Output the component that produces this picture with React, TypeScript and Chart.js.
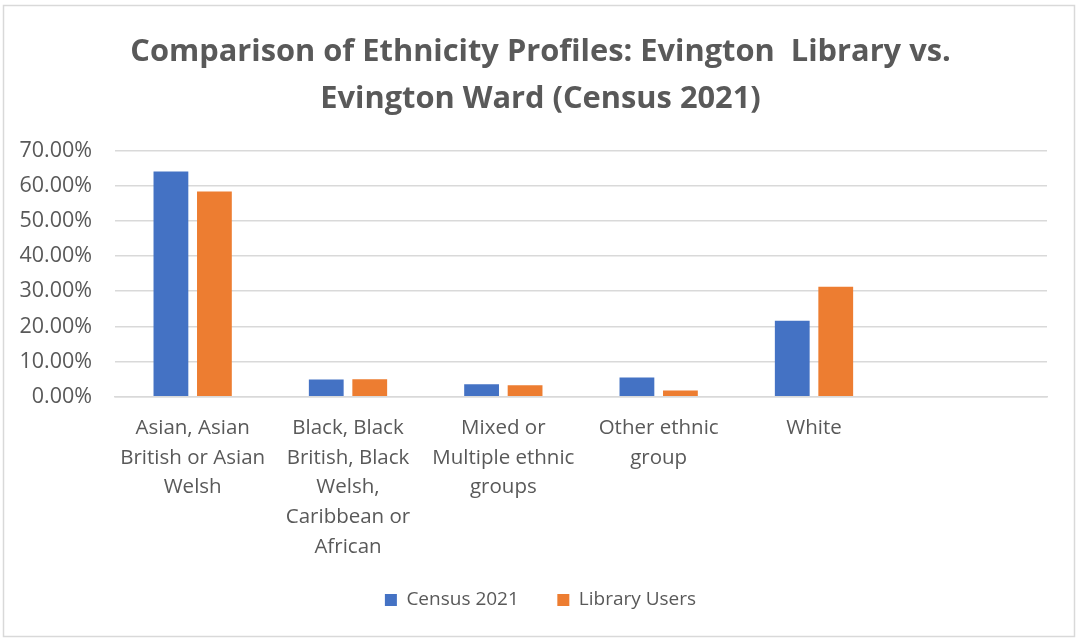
import React, { useEffect, useRef } from "react";
import { Chart, registerables } from "chart.js";

Chart.register(...registerables);

const categories: (string | string[])[] = [
  ["Asian, Asian", "British or Asian", "Welsh"],
  ["Black, Black", "British, Black", "Welsh,", "Caribbean or", "African"],
  ["Mixed or", "Multiple ethnic", "groups"],
  ["Other ethnic", "group"],
  "White",
  "",
];
const census2021 = [64.0, 4.9, 3.6, 5.5, 21.6, null];
const libraryUsers = [58.3, 5.0, 3.3, 1.8, 31.3, null];
const titleLines = [
  "Comparison of Ethnicity Profiles: Evington  Library vs.",
  "Evington Ward (Census 2021)",
];

const FONT = "'Open Sans', sans-serif";
const TEXT = "#595959";

const borderPlugin = {
  id: "outerBorder",
  beforeDraw(chart: any) {
    const { ctx } = chart;
    ctx.save();
    ctx.fillStyle = "#ffffff";
    ctx.fillRect(0, 0, chart.width, chart.height);
    ctx.strokeStyle = "#d9d9d9";
    ctx.lineWidth = 1.5;
    ctx.strokeRect(3.5, 5.5, 1071, 631);
    ctx.restore();
  },
};

export default function App() {
  const ref = useRef<HTMLCanvasElement>(null);
  useEffect(() => {
    document.body.style.margin = "0";
    const chart = new Chart(ref.current!, {
      type: "bar",
      data: {
        labels: categories,
        datasets: [
          { label: "Census 2021", data: census2021, backgroundColor: "#4472C4" },
          { label: "Library Users", data: libraryUsers, backgroundColor: "#ED7D31" },
        ],
      },
      options: {
        animation: false,
        responsive: false,
        maintainAspectRatio: false,
        layout: { padding: { top: 28.5, right: 0, left: 5, bottom: 24.6 } },
        datasets: { bar: { categoryPercentage: 0.56, barPercentage: 0.8 } },
        plugins: {
          title: {
            display: true,
            text: titleLines,
            color: TEXT,
            font: { family: FONT, size: 30.8, weight: "bold", lineHeight: 1.525 },
            padding: { top: 0, bottom: 28 },
          },
          legend: {
            position: "bottom",
            labels: {
              color: TEXT,
              font: { family: FONT, size: 19 },
              boxWidth: 12,
              boxHeight: 12,
              padding: 10,
              generateLabels: (chart: any) => {
                const items = Chart.defaults.plugins.legend.labels.generateLabels(chart);
                if (items.length > 0) items[0].text = items[0].text + "\u2003\u2002";
                return items;
              },
            },
          },
          tooltip: { enabled: false },
        },
        scales: {
          x: {
            grid: { display: false, drawTicks: false },
            border: { color: "#d9d9d9", width: 1.5 },
            ticks: {
              color: TEXT,
              font: { family: FONT, size: 20.5, lineHeight: 1.46 },
              padding: 16,
              maxRotation: 0,
              autoSkip: false,
            },
            afterFit(scale: any) {
              scale.height = 183.6;
            },
          },
          y: {
            min: 0,
            max: 70,
            grid: { color: "#d9d9d9", lineWidth: 1.5, drawTicks: false },
            border: { display: false },
            ticks: {
              stepSize: 10,
              color: TEXT,
              font: { family: FONT, size: 21.5 },
              padding: 23,
              callback: (v: any) => Number(v).toFixed(2) + "%",
            },
            afterFit(scale: any) {
              scale.width = 110;
            },
          },
          spacer: {
            type: "linear",
            position: "right",
            display: true,
            grid: { display: false, drawTicks: false },
            border: { display: false },
            ticks: { display: false },
            afterFit(scale: any) {
              scale.width = 29;
            },
          },
        },
      },
      plugins: [borderPlugin],
    });
    return () => chart.destroy();
  }, []);
  return (
    <div style={{ width: 1076, height: 644 }}>
      <canvas ref={ref} width={1076} height={644} />
    </div>
  );
}
